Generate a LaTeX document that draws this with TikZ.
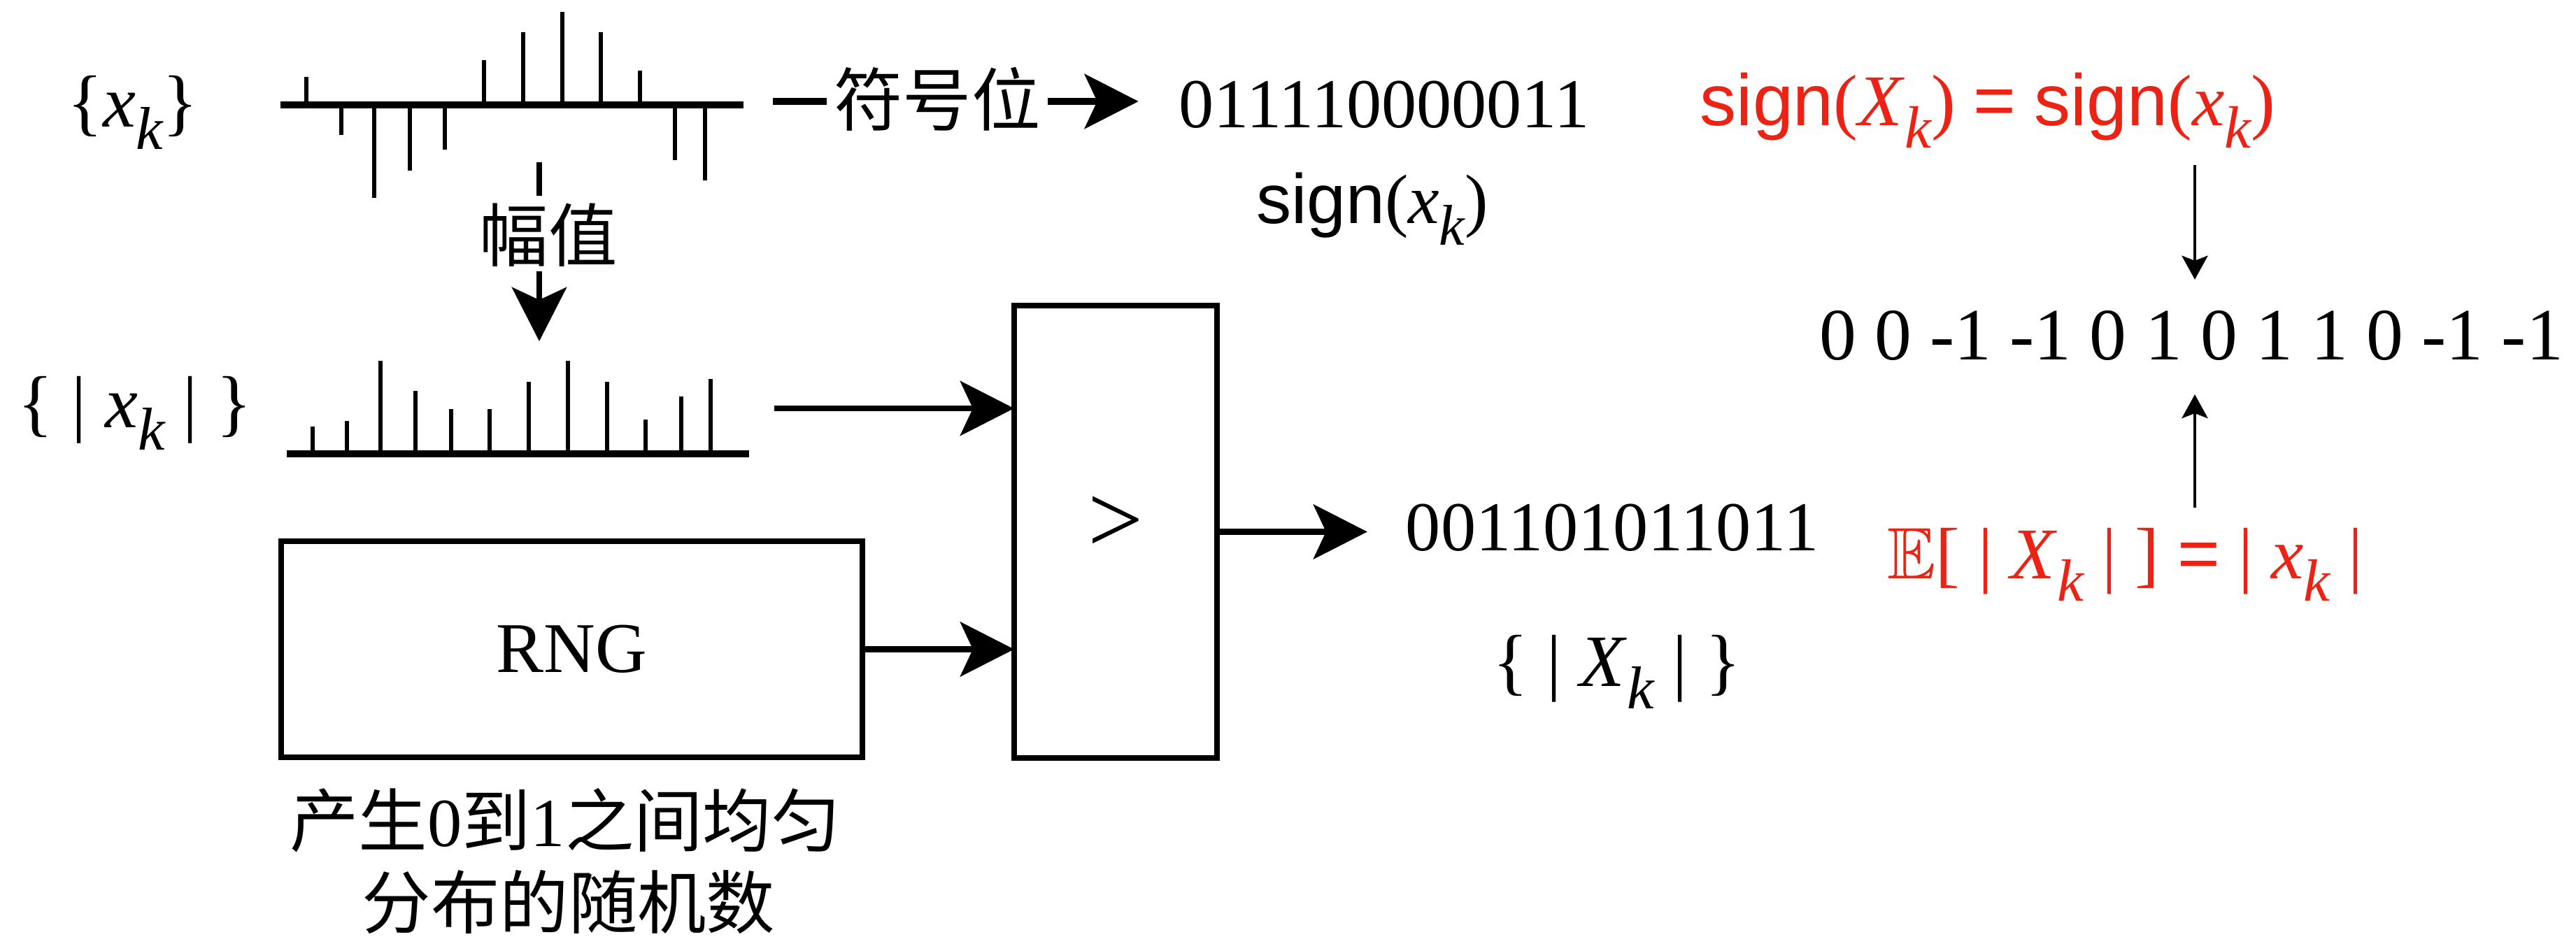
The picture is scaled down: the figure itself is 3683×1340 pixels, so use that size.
\documentclass[tikz,border=0pt]{standalone}
\usepackage{fontspec}
\usepackage{amssymb}
\usepackage{graphicx}
\setmainfont{Liberation Serif}
\newfontfamily\cjk{Noto Sans CJK SC}
\newfontfamily\helv{Liberation Sans}
\usetikzlibrary{arrows.meta}
\definecolor{sigred}{RGB}{236,34,20}
% lowered italic subscript k
\newcommand\subk{\raisebox{-0.3em}{\scalebox{0.82}{\itshape k}}}

\begin{document}
\begin{tikzpicture}[x=0.01cm,y=-0.01cm,
  every node/.style={inner sep=0pt,outer sep=0pt},
  lbl/.style={font=\fontsize{28.5}{34}\selectfont},
  biglbl/.style={font=\fontsize{30}{36}\selectfont},
  cjklbl/.style={font=\cjk\fontsize{28}{34}\selectfont},
  redlbl/.style={font=\fontsize{29.6}{35}\selectfont,text=sigred},
  stem/.style={line width=1.9pt},
  axisline/.style={line width=2.6pt},
  blockbox/.style={draw,line width=2.4pt,inner sep=0pt},
  bigarrow/.style={line width=2.4pt,-{Stealth[length=0.77cm,width=0.78cm,inset=0.18cm]}},
  smallarrow/.style={line width=1.4pt,-{Stealth[length=0.34cm,width=0.37cm,inset=0.07cm]}}]
\useasboundingbox (0,0) rectangle (3683,1340);

% ---------- input sequence x_k ----------
\node[biglbl,anchor=base] (xk) at (190,182) {\{\textit{x}\subk\}};
\draw[axisline] (401,150) -- (1063,150);
\foreach \sx/\sy in {438/110,488/193,535/283,586/244,636/214,692/86,
                     748/46,804/17,859/46,915/101,965/229,1008/258}
  \draw[stem] (\sx,150) -- (\sx,\sy);

% ---------- amplitude branch ----------
\coordinate (m0) at (771,232);
\coordinate (m1) at (771,280);
\draw[line width=2.2pt] (m0) -- (m1);
\node[cjklbl] (mag) at (784,336) {幅值};
\coordinate (m2) at (771,388);
\coordinate (m3) at (771,488);
\draw[bigarrow] (m2) -- (m3);

\node[biglbl,anchor=base] (absxk) at (193,612) {\{ | \textit{x}\subk{} | \}};
\draw[axisline] (410,649) -- (1071,649);
\foreach \sx/\sy in {447/610,496/602,544/516,594/559,645/585,700/585,
                     756/546,812/516,868/546,923/600,974/567,1016/542}
  \draw[stem] (\sx,649) -- (\sx,\sy);

% ---------- sign branch ----------
\node[lbl,anchor=base] (bits1) at (1979,183) {011110000011};
\coordinate (s0) at (1105,145);
\draw[bigarrow,line width=2.8pt,shorten >=0.58cm] (s0) -- (s0 -| bits1.west);
\node[cjklbl,fill=white,inner xsep=3pt,inner ysep=2pt] (sgn) at (1340,142) {符号位};
\node[lbl,anchor=base] (sgnx) at (1962,320) {{\helv sign}(\textit{x}\subk)};

% ---------- comparator and random source ----------
\node[blockbox,minimum width=2.9cm,minimum height=6.47cm] (cmp) at (1595,760.5) {};
\node[font=\fontsize{40}{48}\selectfont] (gt) at (1595,750) {>};
\node[blockbox,minimum width=8.31cm,minimum height=3.09cm,
      font=\fontsize{29}{34}\selectfont] (rng) at (817.5,928.5) {RNG};
\node[cjklbl] (note1) at (808,1173) {产生\textrm{0}到\textrm{1}之间均匀};
\node[cjklbl] (note2) at (813,1290) {分布的随机数};

\coordinate (a0) at (1107,584);
\draw[bigarrow] (a0) -- (a0 -| cmp.west);
\draw[bigarrow] (rng.east) -- (rng.east -| cmp.west);

\node[lbl,anchor=base] (bits2) at (2305,788) {001101011011};
\draw[bigarrow,shorten >=0.55cm] (cmp.east) -- (cmp.east -| bits2.west);
\node[biglbl,anchor=base] (absXk) at (2312,982) {\{ | \textit{X}\subk{} | \}};

% ---------- reconstruction ----------
\node[redlbl,anchor=base] (red1) at (2842,180)
  {{\helv sign}(\textit{X}\subk) {\helv =} {\helv sign}(\textit{x}\subk)};
\node[biglbl,anchor=base] (row) at (3133,515) {0 0 -1 -1 0 1 0 1 1 0 -1 -1};
\node[redlbl,anchor=base] (red2) at (3038,828)
  {$\mathbb{E}$[ | \textit{X}\subk{} | ] {\helv =} | \textit{x}\subk{} |};

\coordinate (d0) at (3138,236);
\draw[smallarrow,shorten >=0.45cm] (d0) -- (d0 |- row.north);
\coordinate (u0) at (3138,726);
\draw[smallarrow,shorten >=0.48cm] (u0) -- (u0 |- row.south);
\end{tikzpicture}
\end{document}
